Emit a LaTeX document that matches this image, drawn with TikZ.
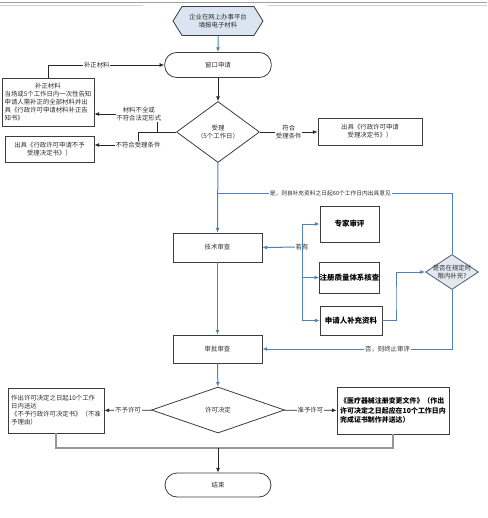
\documentclass[tikz,border=0pt]{standalone}
\usepackage{fontspec}
\setmainfont{Noto Sans CJK SC}
\usepackage{tikz}
\usetikzlibrary{shapes.geometric, shapes.symbols, arrows.meta, positioning, calc}

\begin{document}
\begin{tikzpicture}[x=0.75pt,y=0.75pt,yscale=-1,xscale=1,
    txt/.style={font=\fontsize{4.8}{6}\selectfont, text={rgb,255:red,45;green,45;blue,45}},
    bigtxt/.style={font=\fontsize{5.6}{7}\selectfont\bfseries, text=black},
    box/.style={txt, draw={rgb,255:red,60;green,60;blue,60}, line width=0.6pt, inner sep=0pt},
    stadium/.style={box, rounded corners=9pt},
    choice/.style={box, diamond, inner sep=0pt},
    lbl/.style={txt, fill=white, inner sep=0.6pt, align=center},
    blueline/.style={draw={rgb,255:red,79;green,129;blue,189}, line width=0.75pt},
    blackline/.style={draw={rgb,255:red,40;green,40;blue,40}, line width=0.6pt},
    greyline/.style={draw={rgb,255:red,150;green,150;blue,150}, line width=1.2pt},
    tip/.style={-{Latex[length=3.5pt,width=3pt]}}]
    \useasboundingbox (0,0) rectangle (487,518);

    %Top band of the window
    \draw [draw={rgb,255:red,160;green,160;blue,160}, line width=0.6pt] (0,2) -- (487,2);
    \draw [draw={rgb,255:red,195;green,212;blue,235}, line width=0.6pt] (0,5) -- (143,5) (267,5) -- (487,5);

    %Shape: Hexagon [平台]
    \node [box, signal, signal to=west and east, signal pointer angle=116, fill={rgb,255:red,219;green,229;blue,241}, minimum width=67.5pt, minimum height=21.75pt, align=center] (plat) at (218,21) {企业在网上办事平台\\填报电子材料};
    %Shape: Stadium [窗口申请]
    \node [stadium, minimum width=80pt, minimum height=18.75pt] (win) at (218,65) {窗口申请};
    %Shape: Diamond [受理]
    \node [choice, minimum width=62.25pt, minimum height=45.75pt, align=center] (acc) at (218,132) {受理\\（5个工作日）};

    %Shape: Rectangles, left and right of 受理
    \node [box, minimum width=69pt, minimum height=36pt, align=left] (fix) at (48,102) {\makebox[65pt]{补正材料}\\当场或5个工作日内一次性告知\\申请人需补正的全部材料并出\\具《行政许可申请材料补正告\\知书》};
    \node [box, minimum width=66.75pt, minimum height=19.5pt, align=center] (rej) at (49.5,149) {出具《行政许可申请不予\\受理决定书》）};
    \node [box, minimum width=78pt, minimum height=20.25pt, align=center] (ok) at (370,131.5) {出具《行政许可申请\\受理决定书》）};

    %Shape: Rectangles, review steps
    \node [box, minimum width=66.75pt, minimum height=21.75pt] (tech) at (217.5,247.5) {技术审查};
    \node [box, bigtxt, minimum width=44.25pt, minimum height=27pt] (expert) at (349.5,224) {专家审评};
    \node [box, bigtxt, minimum width=44.25pt, minimum height=23.25pt] (qms) at (349.5,277.5) {注册质量体系核查};
    \node [box, bigtxt, minimum width=46.5pt, minimum height=21.75pt] (supp) at (351,320.5) {申请人补充资料};
    \node [choice, aspect=1.5, inner sep=-4pt, fill={rgb,255:red,226;green,232;blue,240}, draw={rgb,255:red,80;green,92;blue,112}, minimum width=39.75pt, minimum height=26.25pt, align=center] (limit) at (452,272) {是否在规定时\\限内补充?};
    \node [box, minimum width=66.75pt, minimum height=21pt] (appr) at (217.5,349) {审批审查};

    %Shape: Diamond [许可决定] and its outcomes
    \node [choice, minimum width=99.75pt, minimum height=34.5pt] (dec) at (218,410) {许可决定};
    \node [box, minimum width=72pt, minimum height=33.75pt, align=left] (deny) at (56,410.5) {作出许可决定之日起10个工作\\日内送达\\《不予行政许可决定书》（不准\\予理由）};
    \node [box, font=\fontsize{5.2}{7}\selectfont\bfseries, text=black, minimum width=84pt, minimum height=35.25pt, align=left] (grant) at (393,410.5) {《医疗器械注册变更文件》（作出\\许可决定之日起应在10个工作日内\\完成证书制作并送达）};
    %Shape: Stadium [结束]
    \node [stadium, minimum width=79.5pt, minimum height=18pt] (stop) at (218,485) {结束};

    %Joints
    \coordinate (ja) at (157,114);
    \coordinate (jc) at (138,132);
    \coordinate (jd) at (138,145);
    \coordinate (jy) at (218,193);
    \coordinate (bus) at (302,247);
    \coordinate (jk) at (396,300);
    \coordinate (jbot) at (218,448);

    %Connectors
    \draw [blueline, tip] (plat) -- (win);
    \draw [blackline, tip] (win) -- (acc);
    \draw [blackline, tip] (fix.north) |- node [lbl, pos=0.71] {补正材料} (win.west);
    \draw [blackline] (acc.west) -- (jc);
    \draw [blackline, tip] (acc.west -| ja) -- (ja) -- node [lbl, pos=0.29] {材料不全或\\不符合法定形式} (ja -| fix.east);
    \draw [blackline, tip] (jc) -- (jd) node [lbl] {不符合受理条件} -- (jd -| rej.east);
    \draw [blackline, tip] (acc.east) -- node [lbl] {符合\\受理条件} (acc.east -| ok.west);

    \draw [blueline, tip] (acc) -- (tech);
    \draw [blueline] (limit.north) |- node [lbl, pos=0.76, font=\fontsize{4.3}{5}\selectfont] {是，则自补充资料之日起60个工作日内出具意见} (jy);
    \draw [blueline, tip] (bus) node [lbl] {若有} -- (tech.east);
    \draw [blueline, tip] (bus) |- (expert.west);
    \draw [blueline, tip] (bus) |- (qms.west);
    \draw [blueline, tip] (bus) |- (supp.west);
    \draw [blueline, tip] (supp.east) -| (jk) |- (limit.west);
    \draw [blueline, tip] (limit.south) |- node [lbl, pos=0.67] {否，则终止审评} (appr.east);
    \draw [blueline, tip] (tech) -- (appr);
    \draw [blueline, tip] (appr) -- (dec);

    \draw [blackline, tip] (dec) -- node [lbl] {不予许可} (deny);
    \draw [blackline, tip] (dec) -- node [lbl] {准予许可} (grant);
    \draw [greyline] (deny.south) |- (jbot) -| (grant.south);
    \draw [blackline, tip] (jbot) -- (stop);

\end{tikzpicture}
\end{document}
